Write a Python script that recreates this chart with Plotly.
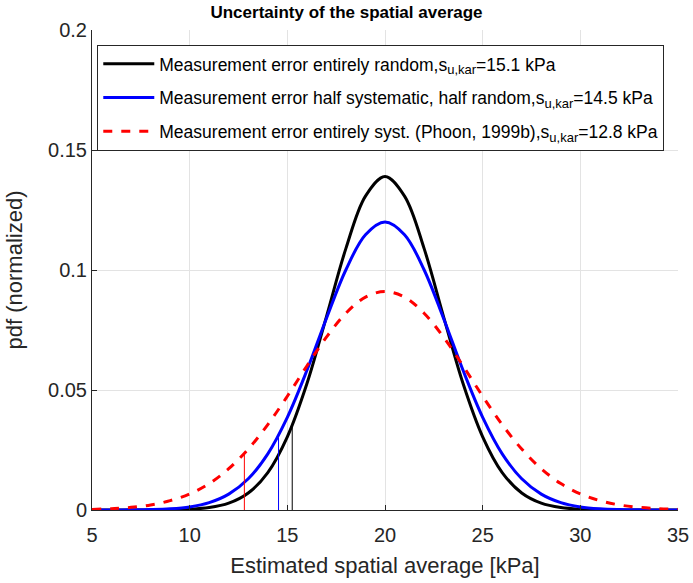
import plotly.graph_objects as go

x_vals = list(range(5, 36))
# pdf values (x = 5..35 step 1)
black_pdf = [0.0, 0.0, 0.0, 0.00002, 0.00009, 0.00032, 0.00102, 0.00285, 0.0071, 0.0156,
             0.0305, 0.0526, 0.0805, 0.1090, 0.1308, 0.139, 0.1308, 0.1090, 0.0805, 0.0526,
             0.0305, 0.0156, 0.0071, 0.00285, 0.00102, 0.00032, 0.00009, 0.00002, 0.0, 0.0, 0.0]
blue_pdf = [0.0, 0.00002, 0.00006, 0.00018, 0.0005, 0.00129, 0.00305, 0.0066, 0.0130, 0.0234,
            0.0386, 0.0581, 0.0798, 0.1001, 0.1147, 0.120, 0.1147, 0.1001, 0.0798, 0.0581,
            0.0386, 0.0234, 0.0130, 0.0066, 0.00305, 0.00129, 0.0005, 0.00018, 0.00006, 0.00002, 0.0]
red_pdf = [0.00026, 0.00055, 0.0011, 0.0021, 0.0039, 0.0067, 0.0110, 0.0172, 0.0254, 0.0356,
           0.0474, 0.0600, 0.0720, 0.0820, 0.0887, 0.091, 0.0887, 0.0820, 0.0720, 0.0600,
           0.0474, 0.0356, 0.0254, 0.0172, 0.0110, 0.0067, 0.0039, 0.0021, 0.0011, 0.00055, 0.00026]

# characteristic values (position of thin vertical markers) and their heights
kar_x = [15.25, 14.55, 12.8]
kar_h = [0.0355, 0.0302, 0.0238]
kar_labels = ["15.1", "14.5", "12.8"]
sub = "<sub><span style='font-size:13px'>u,kar</span></sub>"
names = [
    "Measurement error entirely random,s%s=%s kPa" % (sub, kar_labels[0]),
    "Measurement error half systematic, half random,s%s=%s kPa" % (sub, kar_labels[1]),
    "Measurement error entirely syst. (Phoon, 1999b),s%s=%s kPa" % (sub, kar_labels[2]),
]
colors = ["#000000", "#0000ff", "#ff0000"]
dashes = ["solid", "solid", "dash"]
series = [black_pdf, blue_pdf, red_pdf]

fig = go.Figure()
for i in range(3):
    fig.add_trace(go.Scatter(
        x=x_vals, y=series[i], mode="lines", name=names[i], legendgroup="g%d" % i,
        line=dict(color=colors[i], width=3, dash=dashes[i], shape="spline", smoothing=1.0),
    ))
for i in range(3):
    fig.add_trace(go.Scatter(
        x=[kar_x[i], kar_x[i]], y=[0, kar_h[i]], mode="lines", showlegend=False,
        line=dict(color=colors[i], width=1),
    ))

font_color = "#262626"
fig.update_layout(
    width=693, height=583,
    margin=dict(l=92, r=15, t=30, b=73, autoexpand=False),
    paper_bgcolor="white", plot_bgcolor="white",
    font=dict(family="Liberation Sans, Arial, sans-serif", color=font_color),
    title=dict(text="<b>Uncertainty of the spatial average</b>", x=0.5, xanchor="center",
               y=1 - 12 / 583, yanchor="middle", font=dict(size=17, color="#000000")),
    xaxis=dict(range=[5, 35], tickvals=[5, 10, 15, 20, 25, 30, 35], automargin=False,
               showgrid=True, gridcolor="#e3e3e3", gridwidth=1,
               showline=True, linecolor="#262626", linewidth=1, mirror=False,
               ticks="inside", ticklen=5, tickcolor="#262626", ticklabelstandoff=7,
               tickfont=dict(size=20, color=font_color), zeroline=False,
               title=dict(text="Estimated spatial average [kPa]", font=dict(size=22, color=font_color),
                          standoff=12)),
    yaxis=dict(range=[0, 0.2], tickvals=[0, 0.05, 0.1, 0.15, 0.2], automargin=False,
               ticktext=["0", "0.05", "0.1", "0.15", "0.2"],
               showgrid=True, gridcolor="#e3e3e3", gridwidth=1,
               showline=True, linecolor="#262626", linewidth=1, mirror=False,
               ticks="inside", ticklen=5, tickcolor="#262626",
               tickfont=dict(size=20, color=font_color), zeroline=False,
               title=dict(text="pdf (normalized)", font=dict(size=22, color=font_color), standoff=19)),
    legend=dict(x=0.009, y=0.969, xanchor="left", yanchor="top",
                bgcolor="white", bordercolor="#262626", borderwidth=1, itemwidth=51,
                font=dict(size=17.5, color="#000000"), tracegroupgap=8),
)

fig.write_html("out.html", config={"displayModeBar": False},
               post_script="document.body.style.margin='0';")
